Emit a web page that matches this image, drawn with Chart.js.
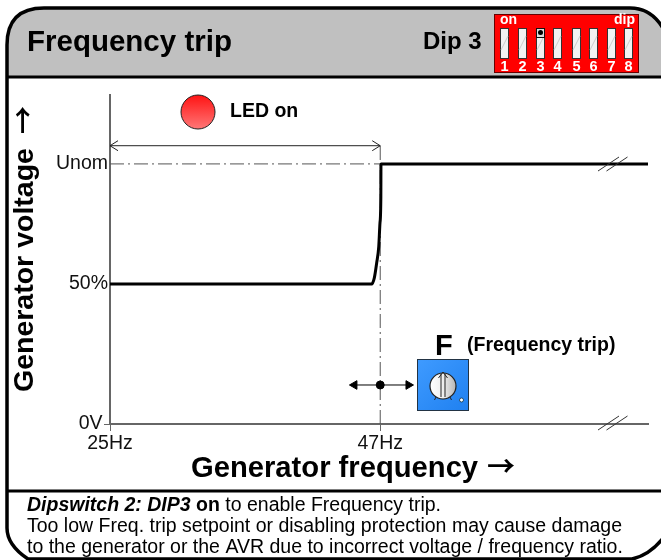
<!DOCTYPE html>
<html>
<head>
<meta charset="utf-8">
<title>Frequency trip</title>
<script src="https://cdn.jsdelivr.net/npm/chart.js@4"></script>
<style>
    html, body { margin: 0; padding: 0; background: #fff; }
    canvas { display: block; }
</style>
</head>
<body>
<canvas id="tripChart" width="661" height="560"></canvas>
<script>
// values (y: Unom = 100, the drawing is not to scale)
const xTickValues = [25, 47];
const xTickLabels = ['25Hz', '47Hz'];
const yTickValues = [0, 53.8, 100];
const yTickLabels = ['0V ', '50%', 'Unom'];

const curveX = [25, 46.3, 46.52, 46.71, 46.88, 46.98, 47.05, 47.06, 68.8];
const curveY = [53.8, 53.8, 56.2, 61.9, 68.2, 77.3, 87.3, 100, 100];
const guideHX = [25, 47];
const guideHY = [100, 100];
const guideVX = [47, 47];
const guideVY = [0, 108];
const spanX = [25, 47];
const spanY = [107, 107];
const setpointX = [44.9, 47, 49.3];
const setpointY = [15, 15, 15];

const FONT = '"Liberation Sans", Arial, sans-serif';
const dipSlots = [500, 518, 536, 553, 572, 589, 607, 624];

function toPoints(xs, ys) {
    return xs.map((x, i) => ({ x: x, y: ys[i] }));
}

function label(c, text, x, y, font, align, color) {
    c.font = font + ' ' + FONT;
    c.textAlign = align || 'left';
    c.textBaseline = 'middle';
    c.fillStyle = color || '#000';
    c.fillText(text, x, y);
}

// arrow glyph is too small in Liberation, the CJK font has a wide open one
function arrowLabel(c, x, y) {
    c.font = 'bold 28px "Noto Sans CJK SC"';
    c.textAlign = 'left';
    c.textBaseline = 'middle';
    c.fillStyle = '#000';
    c.fillText('\u2192', x, y);
}

function framePath(c) {
    c.beginPath();
    c.moveTo(7, 45);
    c.quadraticCurveTo(7, 8, 44, 8);
    c.lineTo(630, 8);
    c.quadraticCurveTo(652, 8, 664, 30);
    c.moveTo(7, 45);
    c.lineTo(7, 528);
    c.quadraticCurveTo(7, 545, 28, 559);
    c.lineTo(632, 559);
    c.quadraticCurveTo(650, 555, 664, 537);
}

function drawHeader(c) {
    c.fillStyle = '#c0c0c0';
    c.beginPath();
    c.moveTo(7, 77);
    c.lineTo(7, 45);
    c.quadraticCurveTo(7, 8, 44, 8);
    c.lineTo(630, 8);
    c.quadraticCurveTo(652, 8, 664, 30);
    c.lineTo(664, 77);
    c.closePath();
    c.fill();

    label(c, 'Frequency trip', 27, 43, 'bold 29.5px');
    label(c, 'Dip 3', 423, 42, 'bold 24px');

    // dip switch block
    c.fillStyle = '#ff0000';
    c.fillRect(494, 14, 145, 59);
    c.strokeStyle = '#600';
    c.lineWidth = 1;
    c.strokeRect(494.5, 14.5, 144, 58);
    label(c, 'on', 500, 20, 'bold 14px', 'left', '#fff');
    label(c, 'dip', 635, 20.5, 'bold 14px', 'right', '#fff');
    dipSlots.forEach((x, i) => {
        c.fillStyle = '#f2f2f2';
        c.fillRect(x, 28, 9, 31);
        c.strokeStyle = '#333';
        c.lineWidth = 1;
        c.strokeRect(x + 0.5, 28.5, 8, 30);
        c.strokeStyle = '#ccc';
        c.beginPath();
        c.moveTo(x + 1, 50);
        c.lineTo(x + 8, 36);
        c.stroke();
        label(c, String(i + 1), x + 4.5, 66.5, 'bold 14.5px', 'center', '#fff');
    });
    // dip 3 is on
    c.fillStyle = '#ddd';
    c.fillRect(dipSlots[2], 28, 9, 10);
    c.strokeStyle = '#111';
    c.strokeRect(dipSlots[2] + 0.5, 28.5, 8, 9);
    c.fillStyle = '#000';
    c.beginPath();
    c.arc(dipSlots[2] + 4.5, 32.5, 2.5, 0, Math.PI * 2);
    c.fill();
}

function drawFooter(c) {
    let x = 27;
    const y = 506;
    [['italic bold 19.5px', 'Dipswitch 2: DIP3'], ['bold 19.5px', ' on'], ['19.5px', ' to enable Frequency trip.']].forEach(p => {
        label(c, p[1], x, y, p[0]);
        x += c.measureText(p[1]).width;
    });
    label(c, 'Too low Freq. trip setpoint or disabling protection may cause damage', 27, 527, '19.5px');
    label(c, 'to the generator or the AVR due to incorrect voltage / frequency ratio.', 27, 548, '19.5px');
}

function drawBreak(c, x, y) {
    c.strokeStyle = '#333';
    c.lineWidth = 1;
    [0, 8.5].forEach(dx => {
        c.beginPath();
        c.moveTo(x - 12 + dx, y + 7);
        c.lineTo(x + 9 + dx, y - 7);
        c.stroke();
    });
}

function drawKnob(c) {
    const g = c.createLinearGradient(417, 359, 469, 411);
    g.addColorStop(0, '#3f9bff');
    g.addColorStop(1, '#1f80f0');
    c.fillStyle = g;
    c.fillRect(417, 359, 52, 52);
    c.strokeStyle = '#234';
    c.lineWidth = 1;
    c.strokeRect(417.5, 359.5, 51, 51);

    const k = c.createLinearGradient(430, 386, 456, 386);
    k.addColorStop(0, '#fff');
    k.addColorStop(0.5, '#eee');
    k.addColorStop(1, '#b5b5b5');
    c.fillStyle = k;
    c.strokeStyle = '#222';
    c.lineWidth = 1.2;
    c.beginPath();
    c.arc(443, 386, 13, 0, Math.PI * 2);
    c.fill();
    c.stroke();
    // pointer
    c.lineWidth = 1;
    c.beginPath();
    c.moveTo(441, 397);
    c.lineTo(441, 374);
    c.moveTo(445, 397);
    c.lineTo(445, 374);
    c.moveTo(438.5, 378);
    c.lineTo(443, 372);
    c.lineTo(447.5, 378);
    c.stroke();
    c.beginPath();
    c.moveTo(436, 397);
    c.lineTo(434.5, 400);
    c.moveTo(450, 397);
    c.lineTo(451.5, 400);
    c.stroke();
    c.fillStyle = '#fff';
    c.strokeStyle = '#134';
    c.lineWidth = 0.8;
    c.beginPath();
    c.arc(461.5, 400, 2, 0, Math.PI * 2);
    c.fill();
    c.stroke();
}

function drawLed(c) {
    const g = c.createLinearGradient(0, 94, 0, 130);
    g.addColorStop(0, '#ff1010');
    g.addColorStop(1, '#ff7a7a');
    c.fillStyle = g;
    c.strokeStyle = '#222';
    c.lineWidth = 1;
    c.beginPath();
    c.arc(198, 112, 17, 0, Math.PI * 2);
    c.fill();
    c.stroke();
}

const decorations = {
    id: 'decorations',
    beforeDraw(chart) {
        const c = chart.ctx;
        c.save();
        c.fillStyle = '#fff';
        c.fillRect(0, 0, 661, 560);
        drawHeader(c);
        c.restore();
    },
    afterDraw(chart) {
        const c = chart.ctx;
        const sx = chart.scales.x;
        const sy = chart.scales.y;
        c.save();

        // frame and separators
        c.strokeStyle = '#000';
        c.lineWidth = 3.5;
        framePath(c);
        c.stroke();
        c.lineWidth = 3;
        c.beginPath();
        c.moveTo(7, 77);
        c.lineTo(661, 77);
        c.moveTo(7, 491);
        c.lineTo(661, 491);
        c.stroke();

        // open arrow heads of the LED span
        const ay = sy.getPixelForValue(spanY[0]);
        c.strokeStyle = '#222';
        c.lineWidth = 1;
        c.beginPath();
        c.moveTo(sx.getPixelForValue(spanX[0]) + 8, ay - 5);
        c.lineTo(sx.getPixelForValue(spanX[0]), ay);
        c.lineTo(sx.getPixelForValue(spanX[0]) + 8, ay + 5);
        c.moveTo(sx.getPixelForValue(spanX[1]) - 8, ay - 5);
        c.lineTo(sx.getPixelForValue(spanX[1]), ay);
        c.lineTo(sx.getPixelForValue(spanX[1]) - 8, ay + 5);
        c.stroke();

        drawBreak(c, 610, 164);
        drawBreak(c, 610, 423);
        drawLed(c);
        label(c, 'LED on', 230, 112, 'bold 19.5px');
        drawKnob(c);
        label(c, 'F', 435, 347, 'bold 29px');
        label(c, '(Frequency trip)', 467, 346, 'bold 19.5px');

        label(c, 'Generator frequency', 191, 469, 'bold 29.2px');
        arrowLabel(c, 487, 466);
        c.save();
        c.translate(24, 392);
        c.rotate(-Math.PI / 2);
        label(c, 'Generator voltage', 0, 1, 'bold 28.5px');
        arrowLabel(c, 258, -1);
        c.restore();

        drawFooter(c);
        c.restore();
    }
};

new Chart(document.getElementById('tripChart'), {
    type: 'scatter',
    data: {
        datasets: [
            {
                label: 'Generator voltage',
                data: toPoints(curveX, curveY),
                showLine: true,
                borderColor: '#000',
                borderWidth: 3,
                pointRadius: 0,
                cubicInterpolationMode: 'monotone',
                order: 1
            },
            {
                label: 'Unom guide',
                data: toPoints(guideHX, guideHY),
                showLine: true,
                borderColor: '#555',
                borderWidth: 1,
                borderDash: [14, 4, 2, 4],
                pointRadius: 0,
                order: 3
            },
            {
                label: '47Hz guide',
                data: toPoints(guideVX, guideVY),
                showLine: true,
                borderColor: '#555',
                borderWidth: 1,
                borderDash: [14, 4, 2, 4],
                pointRadius: 0,
                order: 3
            },
            {
                label: 'LED on span',
                data: toPoints(spanX, spanY),
                showLine: true,
                borderColor: '#222',
                borderWidth: 1,
                pointRadius: 0,
                order: 2
            },
            {
                label: 'Trip setpoint',
                data: toPoints(setpointX, setpointY),
                showLine: true,
                borderColor: '#000',
                borderWidth: 1,
                backgroundColor: '#000',
                pointStyle: ['triangle', 'circle', 'triangle'],
                pointRadius: [5, 4, 5],
                pointRotation: [-90, 0, 90],
                order: 0
            }
        ]
    },
    options: {
        responsive: false,
        animation: false,
        clip: false,
        layout: { padding: { top: 95, right: 13 } },
        plugins: {
            legend: { display: false },
            tooltip: { enabled: false },
            title: { display: false }
        },
        scales: {
            x: {
                type: 'linear',
                min: 25,
                max: 68.8,
                afterBuildTicks(scale) {
                    scale.ticks = xTickValues.map(v => ({ value: v }));
                },
                afterFit(scale) {
                    scale.height = 136;
                },
                ticks: {
                    autoSkip: false,
                    maxRotation: 0,
                    padding: 1,
                    color: '#111',
                    font: { family: FONT, size: 19.5 },
                    callback: v => xTickLabels[xTickValues.indexOf(v)]
                },
                grid: {
                    drawOnChartArea: false,
                    color: '#666',
                    tickLength: 7
                },
                border: { color: '#666', width: 2 }
            },
            y: {
                type: 'linear',
                min: 0,
                max: 126.5,
                afterBuildTicks(scale) {
                    scale.ticks = yTickValues.map(v => ({ value: v }));
                },
                afterFit(scale) {
                    scale.width = 110;
                },
                ticks: {
                    autoSkip: false,
                    padding: -4,
                    color: '#111',
                    font: { family: FONT, size: 19.5 },
                    callback: v => yTickLabels[yTickValues.indexOf(v)]
                },
                grid: {
                    drawOnChartArea: false,
                    color: '#666',
                    // only the 0V line has a tick mark
                    tickColor: ctx => (ctx.tick && ctx.tick.value === 0 ? '#666' : 'rgba(0,0,0,0)'),
                    tickLength: 6
                },
                border: { color: '#666', width: 2 }
            }
        }
    },
    plugins: [decorations]
});
</script>
</body>
</html>
